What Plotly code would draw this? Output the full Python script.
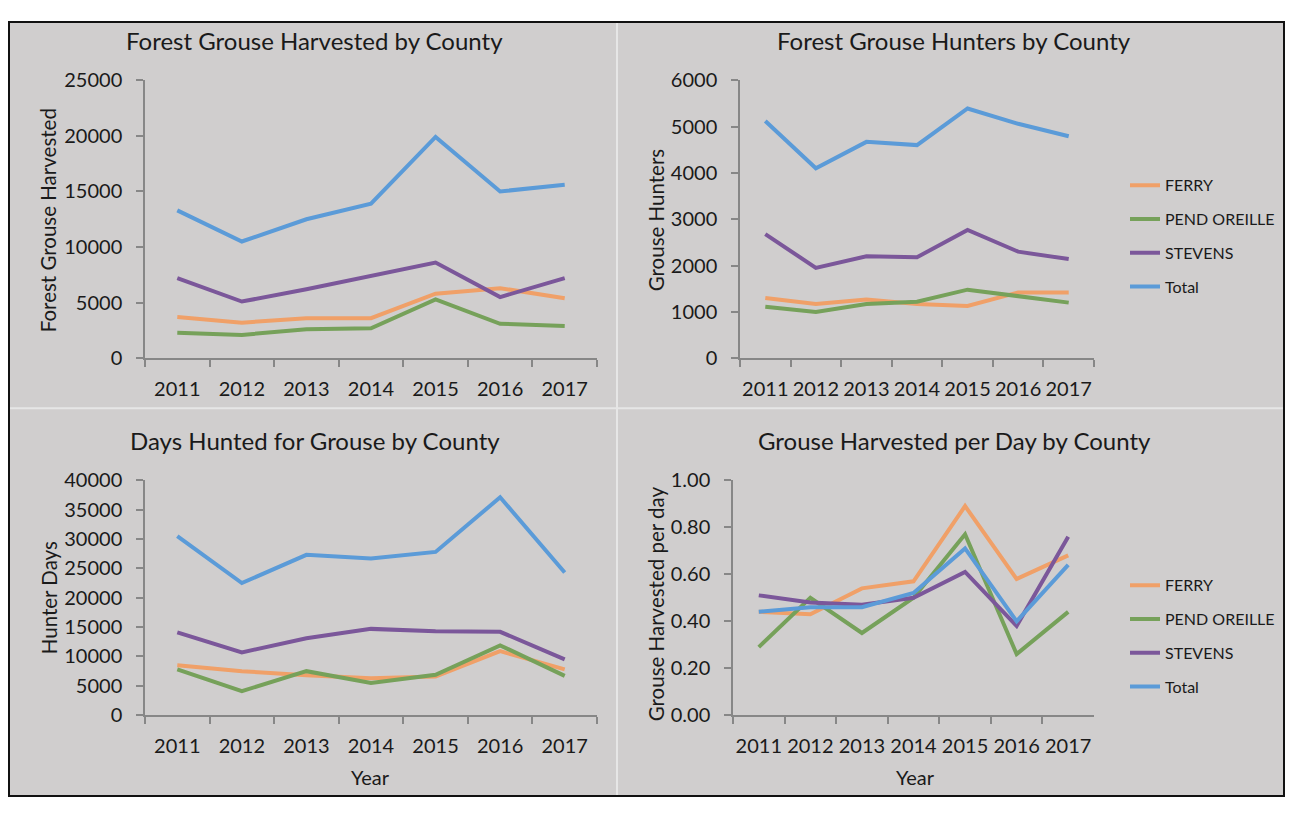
import plotly.graph_objects as go

# ---------------- data ----------------
years = ["2011", "2012", "2013", "2014", "2015", "2016", "2017"]
counties = ["FERRY", "PEND OREILLE", "STEVENS", "Total"]

harvest_ferry = [3700, 3200, 3600, 3600, 5800, 6300, 5400]
harvest_pend = [2300, 2100, 2600, 2700, 5300, 3100, 2900]
harvest_stevens = [7200, 5100, 6200, 7400, 8600, 5500, 7200]
harvest_total = [13300, 10500, 12500, 13900, 19900, 15000, 15600]

hunters_ferry = [1300, 1170, 1270, 1170, 1130, 1420, 1420]
hunters_pend = [1110, 1000, 1170, 1220, 1480, 1340, 1200]
hunters_stevens = [2680, 1950, 2200, 2180, 2770, 2300, 2140]
hunters_total = [5120, 4100, 4670, 4600, 5390, 5060, 4790]

days_ferry = [8500, 7500, 6800, 6300, 6600, 10900, 7800]
days_pend = [7800, 4100, 7500, 5500, 6900, 11900, 6700]
days_stevens = [14100, 10700, 13100, 14700, 14300, 14200, 9500]
days_total = [30500, 22500, 27300, 26700, 27800, 37100, 24300]

perday_ferry = [0.44, 0.43, 0.54, 0.57, 0.89, 0.58, 0.68]
perday_pend = [0.29, 0.50, 0.35, 0.50, 0.77, 0.26, 0.44]
perday_stevens = [0.51, 0.48, 0.47, 0.50, 0.61, 0.38, 0.76]
perday_total = [0.44, 0.46, 0.46, 0.52, 0.71, 0.40, 0.64]

panel_titles = ["Forest Grouse Harvested by County", "Forest Grouse Hunters by County",
                "Days Hunted for Grouse by County", "Grouse Harvested per Day by County"]
y_titles = ["Forest Grouse Harvested", "Grouse Hunters", "Hunter Days", "Grouse Harvested per day"]
x_title = "Year"

colors = ["#F0A068", "#76A15A", "#7B579A", "#5B9BD8"]

# ---------------- layout helpers ----------------
FW, FH = 1277, 800          # figure size (page has 8px body margin)
OX, OY = 8, 8               # where the figure sits on the page
CAL_A, CAL_S = 14.0, 0.970  # observed vertical page->picture mapping
FONT = "Lato, 'Open Sans', sans-serif"
BG = "#D0CECE"
AX = "#878787"
TXT = "#1a1a1a"


def fx(px):
    return (px - OX) / FW


def fy(py):
    page_y = (py - CAL_A) / CAL_S
    return 1 - (page_y - OY) / FH


def fy_raw(page_y):
    return 1 - (page_y - OY) / FH


panels = [
    dict(series=[harvest_ferry, harvest_pend, harvest_stevens, harvest_total],
         xd=(145, 597), yd=(359, 81), rng=[0, 25000], dtick=5000, fmt="d", legend=None),
    dict(series=[hunters_ferry, hunters_pend, hunters_stevens, hunters_total],
         xd=(740, 1094), yd=(359, 81), rng=[0, 6000], dtick=1000, fmt="d", legend="legend"),
    dict(series=[days_ferry, days_pend, days_stevens, days_total],
         xd=(145, 597), yd=(716, 481), rng=[0, 40000], dtick=5000, fmt="d", legend=None),
    dict(series=[perday_ferry, perday_pend, perday_stevens, perday_total],
         xd=(733, 1094), yd=(716, 481), rng=[0, 1.0], dtick=0.2, fmt=".2f", legend="legend2"),
]

fig = go.Figure()
layout = {}
for i, p in enumerate(panels):
    n = "" if i == 0 else str(i + 1)
    for j, (vals, name) in enumerate(zip(p["series"], counties)):
        fig.add_trace(go.Scatter(
            x=years, y=vals, name=name, mode="lines",
            line=dict(color=colors[j], width=4),
            xaxis="x" + n, yaxis="y" + n,
            showlegend=p["legend"] is not None,
            legend=p["legend"] if p["legend"] else "legend",
            legendgroup=f"p{i}_{j}",
        ))
    layout["xaxis" + n] = dict(
        domain=[fx(p["xd"][0]), fx(p["xd"][1])], anchor="y" + n,
        type="category", range=[-0.5, 6.5], tickangle=0,
        showline=True, linecolor=AX, linewidth=1.5,
        ticks="outside", tickson="boundaries", ticklen=7, tickcolor=AX, tickwidth=1.5,
        showgrid=False, zeroline=False, ticklabelstandoff=12,
        tickfont=dict(family=FONT, size=20, color=TXT),
    )
    layout["yaxis" + n] = dict(
        domain=[fy(p["yd"][0]), fy(p["yd"][1])], anchor="x" + n,
        range=p["rng"], dtick=p["dtick"], tick0=0, tickformat=p["fmt"],
        showline=True, linecolor=AX, linewidth=1.5,
        ticks="outside", ticklen=7, tickcolor=AX, tickwidth=1.5,
        showgrid=False, zeroline=False, ticklabelstandoff=10,
        tickfont=dict(family=FONT, size=20, color=TXT),
    )

annotations = []
title_pos = [(314, 41), (954, 41), (315, 441), (954, 441)]
ytitle_pos = [(48, 221), (656, 221), (49, 599), (656, 605)]
for (tx, ty), t in zip(title_pos, panel_titles):
    annotations.append(dict(text=t, x=fx(tx), y=fy(ty), xref="paper", yref="paper",
                            xanchor="center", yanchor="middle", showarrow=False,
                            font=dict(family=FONT, size=24, color=TXT)))
for (tx, ty), t in zip(ytitle_pos, y_titles):
    annotations.append(dict(text=t, x=fx(tx), y=fy(ty), xref="paper", yref="paper",
                            xanchor="center", yanchor="middle", showarrow=False, textangle=-90,
                            font=dict(family=FONT, size=20.5, color=TXT)))
for tx in (370, 915):
    annotations.append(dict(text=x_title, x=fx(tx), y=fy(778), xref="paper", yref="paper",
                            xanchor="center", yanchor="middle", showarrow=False,
                            font=dict(family=FONT, size=20, color=TXT)))

shapes = [
    dict(type="rect", xref="paper", yref="paper", x0=fx(9), x1=fx(OX + FW - 1),
         y0=fy_raw(OY + FH - 1), y1=fy_raw(OY + 1),
         fillcolor=BG, line=dict(color="#111111", width=2), layer="below"),
    dict(type="line", xref="paper", yref="paper", x0=fx(617), x1=fx(617),
         y0=fy_raw(OY + FH - 2), y1=fy_raw(OY + 2),
         line=dict(color="#E6E6E6", width=2), layer="below"),
    dict(type="line", xref="paper", yref="paper", x0=fx(10), x1=fx(OX + FW - 2), y0=fy(409), y1=fy(409),
         line=dict(color="#E6E6E6", width=2), layer="below"),
]

legend_common = dict(bgcolor="rgba(0,0,0,0)", traceorder="grouped", tracegroupgap=10,
                     font=dict(family=FONT, size=16, color=TXT),
                     xanchor="left", yanchor="top", itemwidth=30)

fig.update_layout(
    width=FW, height=FH, margin=dict(l=0, r=0, t=0, b=0),
    paper_bgcolor="white", plot_bgcolor="rgba(0,0,0,0)",
    annotations=annotations, shapes=shapes,
    legend=dict(x=fx(1125), y=fy(169), **legend_common),
    legend2=dict(x=fx(1125), y=fy(569), **legend_common),
    **layout,
)

fig.write_html("out.html")
